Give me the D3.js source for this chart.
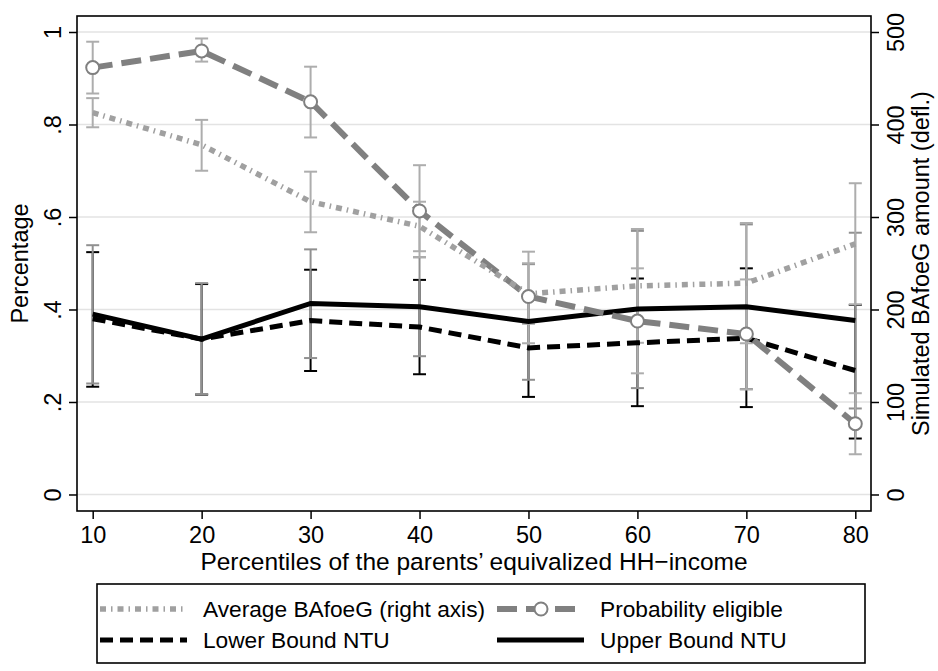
<!doctype html>
<html>
<head>
<meta charset="utf-8">
<script src="https://d3js.org/d3.v7.min.js"></script>
<style>
    body { margin: 0; background: #fff; }
    text { font-family: "Liberation Sans", Arial, sans-serif; fill: #000; }
</style>
</head>
<body>
<div id="chart"></div>
<script>

    // percentiles on the x axis
    var percentiles = [10, 20, 30, 40, 50, 60, 70, 80];

    // Average BAfoeG (right axis, in euro) with its interval
    var avgBafoeg   = [412.8, 378, 316.5, 290, 217, 225.5, 228.5, 271];
    var avgLo       = [397, 350, 283.5, 263, 184.5, 164, 163.5, 205.5];
    var avgHi       = [428.5, 405, 349, 316.5, 250, 287, 293.5, 336.5];

    // Probability eligible (left axis)
    var probElig    = [0.923, 0.959, 0.849, 0.613, 0.428, 0.375, 0.347, 0.153];
    var probLo      = [0.867, 0.936, 0.772, 0.513, 0.327, 0.262, 0.227, 0.087];
    var probHi      = [0.979, 0.986, 0.925, 0.712, 0.525, 0.489, 0.465, 0.219];

    // Lower bound NTU
    var lowerNTU    = [0.380, 0.336, 0.376, 0.362, 0.317, 0.328, 0.338, 0.268];
    var lowerLo     = [0.233, 0.216, 0.267, 0.260, 0.211, 0.191, 0.189, 0.121];
    var lowerHi     = [0.524, 0.455, 0.486, 0.464, 0.423, 0.467, 0.489, 0.410];

    // Upper bound NTU
    var upperNTU    = [0.390, 0.336, 0.413, 0.406, 0.374, 0.401, 0.406, 0.376];
    var upperLo     = [0.240, 0.217, 0.295, 0.299, 0.248, 0.230, 0.228, 0.186];
    var upperHi     = [0.539, 0.457, 0.530, 0.513, 0.498, 0.570, 0.584, 0.566];

    var leftTicks  = [0, 0.2, 0.4, 0.6, 0.8, 1];
    var rightTicks = [0, 100, 200, 300, 400, 500];

    var W = 938, H = 671;
    var frame = {left: 77, right: 871, top: 16, bottom: 511};

    var svg = d3.select("#chart").append("svg")
        .attr("width", W)
        .attr("height", H);

    svg.append("rect").attr("width", W).attr("height", H).attr("fill", "#fff");

    var x = d3.scaleLinear().domain([8.559, 81.441]).range([frame.left, frame.right]);
    var yL = d3.scaleLinear().domain([-0.0357, 1.0346]).range([frame.bottom, frame.top]);
    var yR = d3.scaleLinear().domain([-0.0357 * 500, 1.0346 * 500]).range([frame.bottom, frame.top]);

    // gridlines
    svg.append("g").selectAll("line")
        .data(leftTicks).enter().append("line")
        .attr("x1", frame.left).attr("x2", frame.right)
        .attr("y1", function(d) { return yL(d); })
        .attr("y2", function(d) { return yL(d); })
        .attr("stroke", "#e3e3e3")
        .attr("stroke-width", 1.6);

    // axes
    var fmtL = function(d) { return d === 0 ? "0" : d === 1 ? "1" : d3.format(".1f")(d).replace(/^0/, ""); };

    var gL = svg.append("g")
        .attr("transform", "translate(" + frame.left + ",0)")
        .call(d3.axisLeft(yL).tickValues(leftTicks).tickSize(8).tickFormat(fmtL));
    var gR = svg.append("g")
        .attr("transform", "translate(" + frame.right + ",0)")
        .call(d3.axisRight(yR).tickValues(rightTicks).tickSize(8));
    var gB = svg.append("g")
        .attr("transform", "translate(0," + frame.bottom + ")")
        .call(d3.axisBottom(x).tickValues(percentiles).tickSize(8));

    [gL, gR, gB].forEach(function(g) {
        g.select(".domain").remove();
        g.selectAll(".tick line").attr("stroke", "#000").attr("stroke-width", 1.5);
        g.selectAll("text").style("font-size", "23.5px").attr("fill", "#000");
    });

    // rotate the y labels like the original
    gL.selectAll(".tick text")
        .attr("x", null).attr("dy", null)
        .attr("text-anchor", "middle")
        .attr("transform", "translate(-24,0) rotate(-90)")
        .attr("dy", "0.36em");
    gR.selectAll(".tick text")
        .attr("x", null).attr("dy", null)
        .attr("text-anchor", "middle")
        .attr("transform", "translate(25,0) rotate(-90)")
        .attr("dy", "0.36em");
    gB.selectAll(".tick text").attr("y", 15).attr("dy", "0.71em");

    // frame
    svg.append("rect")
        .attr("x", frame.left).attr("y", frame.top)
        .attr("width", frame.right - frame.left)
        .attr("height", frame.bottom - frame.top)
        .attr("fill", "none").attr("stroke", "#000").attr("stroke-width", 1.6);

    // axis titles
    svg.append("text")
        .attr("transform", "translate(20," + ((frame.top + frame.bottom) / 2) + ") rotate(-90)")
        .attr("text-anchor", "middle").attr("dy", "0.36em")
        .style("font-size", "23.5px")
        .text("Percentage");
    svg.append("text")
        .attr("transform", "translate(921," + ((frame.top + frame.bottom) / 2) + ") rotate(-90)")
        .attr("text-anchor", "middle").attr("dy", "0.36em")
        .style("font-size", "23.5px")
        .text("Simulated BAfoeG amount (defl.)");
    svg.append("text")
        .attr("x", 474).attr("y", 570)
        .attr("text-anchor", "middle")
        .style("font-size", "24.5px")
        .text("Percentiles of the parents\u2019 equivalized HH\u2212income");

    // error bars
    function errorBars(lo, hi, scale, color) {
        var g = svg.append("g").attr("stroke", color).attr("stroke-width", 2).attr("fill", "none");
        percentiles.forEach(function(p, i) {
            var cx = x(p), y1 = scale(lo[i]), y2 = scale(hi[i]);
            g.append("line").attr("x1", cx).attr("x2", cx).attr("y1", y1).attr("y2", y2);
            g.append("line").attr("x1", cx - 6.5).attr("x2", cx + 6.5).attr("y1", y1).attr("y2", y1);
            g.append("line").attr("x1", cx - 6.5).attr("x2", cx + 6.5).attr("y1", y2).attr("y2", y2);
        });
    }
    errorBars(lowerLo, lowerHi, yL, "#000");
    errorBars(upperLo, upperHi, yL, "#909090");
    errorBars(probLo, probHi, yL, "#adadad");
    errorBars(avgLo, avgHi, yR, "#adadad");

    // lines
    var styles = {
        upper: {color: "#000", width: 5, dash: null},
        lower: {color: "#000", width: 5, dash: "13,7"},
        prob:  {color: "#808080", width: 6, dash: "20,9"},
        avg:   {color: "#a0a0a0", width: 5.5, dash: "6,5,1.5,5"}
    };

    function drawLine(vals, scale, st) {
        var line = d3.line()
            .x(function(d, i) { return x(percentiles[i]); })
            .y(function(d) { return scale(d); });
        svg.append("path")
            .datum(vals)
            .attr("d", line)
            .attr("fill", "none")
            .attr("stroke", st.color)
            .attr("stroke-width", st.width)
            .attr("stroke-dasharray", st.dash);
    }
    drawLine(upperNTU, yL, styles.upper);
    drawLine(lowerNTU, yL, styles.lower);
    drawLine(probElig, yL, styles.prob);
    drawLine(avgBafoeg, yR, styles.avg);

    svg.append("g").selectAll("circle")
        .data(probElig).enter().append("circle")
        .attr("cx", function(d, i) { return x(percentiles[i]); })
        .attr("cy", function(d) { return yL(d); })
        .attr("r", 6.5)
        .attr("fill", "#fff")
        .attr("stroke", "#808080")
        .attr("stroke-width", 2);

    // legend
    var leg = svg.append("g");
    leg.append("rect")
        .attr("x", 97).attr("y", 584).attr("width", 768).attr("height", 79)
        .attr("fill", "#fff").attr("stroke", "#000").attr("stroke-width", 1.6);

    var legendItems = [
        {label: "Average BAfoeG (right axis)", st: styles.avg, col: 0, row: 0},
        {label: "Probability eligible", st: styles.prob, col: 1, row: 0, marker: true},
        {label: "Lower Bound NTU", st: styles.lower, col: 0, row: 1},
        {label: "Upper Bound NTU", st: styles.upper, col: 1, row: 1}
    ];
    var colX = [100, 497], rowY = [609, 640];

    legendItems.forEach(function(it) {
        var x0 = colX[it.col], yy = rowY[it.row];
        leg.append("line")
            .attr("x1", x0).attr("x2", x0 + 87)
            .attr("y1", yy).attr("y2", yy)
            .attr("stroke", it.st.color)
            .attr("stroke-width", it.st.width)
            .attr("stroke-dasharray", it.st.dash);
        if (it.marker) {
            leg.append("circle")
                .attr("cx", x0 + 44).attr("cy", yy).attr("r", 6.5)
                .attr("fill", "#fff").attr("stroke", "#808080").attr("stroke-width", 2);
        }
        leg.append("text")
            .attr("x", x0 + 103).attr("y", yy).attr("dy", "0.36em")
            .style("font-size", "22.7px")
            .text(it.label);
    });

</script>
</body>
</html>
